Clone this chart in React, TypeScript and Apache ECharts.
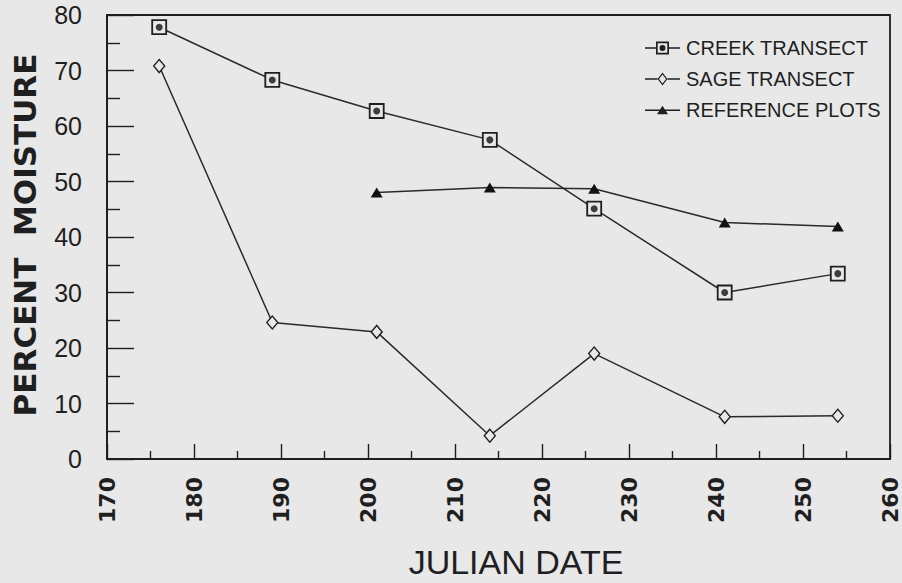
import React, { useEffect, useRef } from "react";
import * as echarts from "echarts";

// Julian dates of sampling
const creekDates = [176, 189, 201, 214, 226, 241, 254];
const creekValues = [77.8, 68.3, 62.7, 57.5, 45.1, 30.0, 33.4];
const sageDates = [176, 189, 201, 214, 226, 241, 254];
const sageValues = [70.8, 24.6, 22.9, 4.2, 19.0, 7.6, 7.8];
const refDates = [201, 214, 226, 241, 254];
const refValues = [48.0, 48.9, 48.7, 42.6, 41.9];

const seriesNames = ["CREEK TRANSECT", "SAGE TRANSECT", "REFERENCE PLOTS"];
const xTitle = "JULIAN DATE";
const yTitle = "PERCENT  MOISTURE";

const BG = "#e8e8e8";
const INK = "#1f1f1f";

const pair = (xs: number[], ys: number[]) => xs.map((x, i) => [x, ys[i]]);

const creekIcon =
  "path://M0,6.3 H11 V7.7 H0 Z M24,6.3 H35 V7.7 H24 Z M11,0.5 H24 V13.5 H11 Z M12.7,2.2 V11.8 H22.3 V2.2 Z M14.5,7 A3,3 0 1,0 20.5,7 A3,3 0 1,0 14.5,7 Z";
const sageIcon =
  "path://M0,6.3 H12.5 V7.7 H0 Z M22.5,6.3 H35 V7.7 H22.5 Z M17.5,0.5 L22.5,7 L17.5,13.5 L12.5,7 Z M17.5,2.5 L14,7 L17.5,11.5 L21,7 Z";
const refIcon = "path://M0,6.3 H35 V7.7 H0 Z M12,11 L17.5,2.5 L23,11 Z";

export default function App() {
  const ref = useRef<HTMLDivElement>(null);
  useEffect(() => {
    if (!ref.current) return;
    const chart = echarts.init(ref.current, undefined, { renderer: "svg" });
    chart.setOption({
      animation: false,
      backgroundColor: BG,
      grid: {
        left: 107,
        right: 12,
        top: 15,
        bottom: 124,
        show: true,
        borderColor: INK,
        borderWidth: 1.8,
      },
      legend: {
        orient: "vertical",
        left: 640,
        top: 33,
        itemWidth: 35,
        itemHeight: 14,
        itemGap: 11,
        textStyle: { fontFamily: "Liberation Sans", fontSize: 20, color: INK, padding: [0, 0, 0, 1] },
        data: [
          { name: seriesNames[0], icon: creekIcon, itemStyle: { color: INK, borderWidth: 0 } },
          { name: seriesNames[1], icon: sageIcon, itemStyle: { color: INK, borderWidth: 0 } },
          { name: seriesNames[2], icon: refIcon, itemStyle: { color: INK, borderWidth: 0 } },
        ],
      },
      xAxis: {
        type: "value",
        min: 170,
        max: 260,
        interval: 10,
        axisLine: { show: true, lineStyle: { color: INK, width: 1.8 } },
        axisTick: { show: true, inside: true, length: 15, lineStyle: { color: INK, width: 1.4 } },
        minorTick: { show: true, splitNumber: 2, length: 8, lineStyle: { color: INK, width: 1.4 } },
        splitLine: { show: false },
        axisLabel: {
          rotate: 90,
          margin: 18,
          fontFamily: "DejaVu Sans",
          fontWeight: "bold",
          fontSize: 22,
          color: INK,
          showMinLabel: true,
          showMaxLabel: true,
        },
      },
      yAxis: {
        type: "value",
        min: 0,
        max: 80,
        interval: 10,
        axisLine: { show: true, lineStyle: { color: INK, width: 1.8 } },
        axisTick: { show: true, inside: true, length: 27, lineStyle: { color: INK, width: 1.4 } },
        minorTick: { show: true, splitNumber: 2, length: 13, lineStyle: { color: INK, width: 1.4 } },
        splitLine: { show: false },
        axisLabel: {
          margin: 25,
          fontFamily: "Liberation Sans",
          fontSize: 25,
          color: INK,
        },
      },
      graphic: [
        {
          type: "text",
          x: 25,
          y: 235,
          rotation: Math.PI / 2,
          style: {
            text: yTitle,
            fontFamily: "DejaVu Sans",
            fontWeight: "bold",
            fontSize: 31,
            fill: INK,
            align: "center",
            verticalAlign: "middle",
          },
        },
        {
          type: "text",
          x: 516,
          y: 562,
          style: {
            text: xTitle,
            fontFamily: "Liberation Sans",
            fontSize: 34,
            fill: INK,
            align: "center",
            verticalAlign: "middle",
          },
        },
      ],
      series: [
        {
          name: seriesNames[0],
          type: "line",
          data: pair(creekDates, creekValues),
          symbol: "rect",
          symbolSize: 14,
          itemStyle: { color: BG, borderColor: INK, borderWidth: 1.8 },
          lineStyle: { color: "#2a2a2a", width: 1.5 },
          z: 3,
        },
        {
          name: "creek-dot",
          type: "scatter",
          data: pair(creekDates, creekValues),
          symbol: "circle",
          symbolSize: 7,
          itemStyle: { color: "#111" },
          z: 6,
        },
        {
          name: seriesNames[1],
          type: "line",
          data: pair(sageDates, sageValues),
          symbol: "diamond",
          symbolSize: [11, 13],
          itemStyle: { color: BG, borderColor: INK, borderWidth: 1.4 },
          lineStyle: { color: "#2a2a2a", width: 1.5 },
          z: 3,
        },
        {
          name: seriesNames[2],
          type: "line",
          data: pair(refDates, refValues),
          symbol: "triangle",
          symbolSize: [12, 10],
          itemStyle: { color: "#111" },
          lineStyle: { color: "#2a2a2a", width: 1.5 },
          z: 3,
        },
      ],
    });
    return () => chart.dispose();
  }, []);
  return (
    <div
      ref={ref}
      style={{ position: "fixed", left: 0, top: 0, width: 902, height: 583 }}
    />
  );
}
